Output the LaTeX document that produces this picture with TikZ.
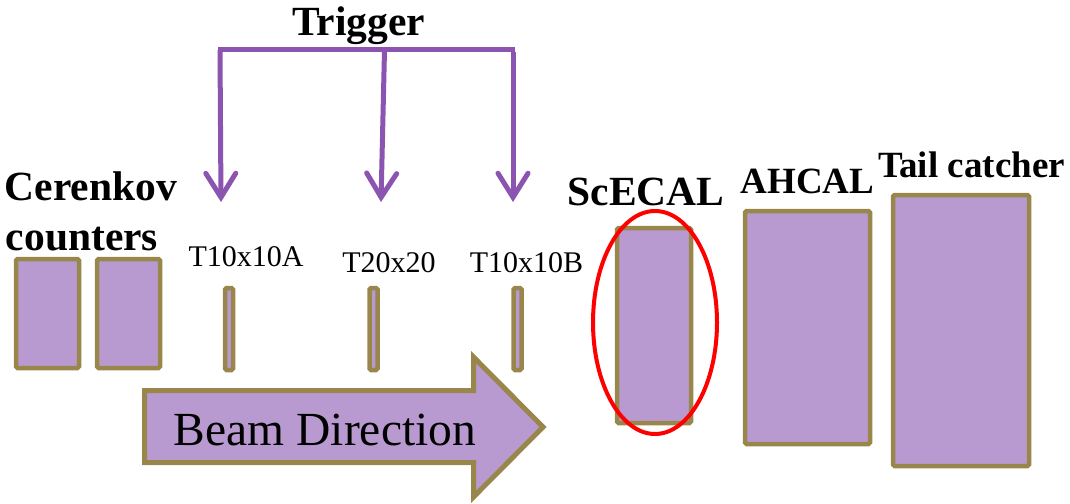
\documentclass[tikz,border=0pt]{standalone}
\usepackage{fontspec}
\setmainfont{Liberation Serif}
\usetikzlibrary{arrows.meta}
\definecolor{lav}{RGB}{184,153,208}
\definecolor{olivebd}{RGB}{153,134,74}
\definecolor{trig}{RGB}{139,84,176}
\definecolor{ellred}{RGB}{255,0,0}
\begin{document}
\begin{tikzpicture}[x=1pt,y=-1pt,
  box/.style={draw=olivebd, fill=lav, line width=4.5pt, rounded corners=1.5pt, inner sep=0pt, outer sep=0pt},
  trigline/.style={draw=trig, line width=5pt},
  trigarrow/.style={draw=trig, line width=5pt, -{Straight Barb[length=24pt,width=30pt,line cap=round]}},
  bigl/.style={font=\bfseries\fontsize{41.5}{46}\selectfont, inner sep=0pt, anchor=base},
  midl/.style={font=\bfseries\fontsize{37}{42}\selectfont, inner sep=0pt, anchor=base},
  tl/.style={font=\fontsize{30}{34}\selectfont, inner sep=0pt, anchor=base}]
\useasboundingbox (0,0) rectangle (1070,503);
% detector boxes
\node[box, minimum width=63pt, minimum height=109pt] (c1) at (47.5,313.5) {};
\node[box, minimum width=63pt, minimum height=109pt] (c2) at (128.5,313.5) {};
\node[box, minimum width=8pt, minimum height=82pt] (ta) at (229,329) {};
\node[box, minimum width=8pt, minimum height=82pt] (tb) at (373.5,329) {};
\node[box, minimum width=8pt, minimum height=82pt] (tc) at (517.5,329) {};
\node[box, minimum width=74pt, minimum height=195pt] (ecal) at (654,325.5) {};
\node[box, minimum width=125pt, minimum height=233pt] (hcal) at (807.5,327.5) {};
\node[box, minimum width=136pt, minimum height=271pt] (tcmt) at (961,330.5) {};
% ScECAL highlight
\draw[ellred, line width=4pt] (ecal.center) ++(1,-3) ellipse [x radius=62, y radius=111.5];
% beam arrow
\draw[draw=olivebd, fill=lav, line width=5pt, line join=miter]
  (144.5,390.5) -- (473.5,390.5) -- (473.5,357) -- (543,427) -- (473.5,497) -- (473.5,462.5) -- (144.5,462.5) -- cycle;
\node[font=\fontsize{47.5}{52}\selectfont, inner sep=0pt, anchor=base] (beam) at (325,445) {Beam Direction};
% trigger
\coordinate (bl) at (218,50);
\coordinate (br) at (515,50);
\coordinate (s1) at (220,50);
\coordinate (s2) at (384.5,50);
\coordinate (s3) at (513,52);
\coordinate (e1) at (221,202);
\coordinate (e2) at (381,202);
\coordinate (e3) at (513,202);
\draw[trigline] (bl) -- (br);
\draw[trigarrow] (s1) -- (e1);
\draw[trigarrow] (s2) -- (e2);
\draw[trigarrow] (s3) -- (e3);
% labels
\node[bigl] (trigger) at (358.5,36) {Trigger};
\node[bigl] (cer1) at (91,200) {Cerenkov};
\node[bigl] (cer2) at (82,250) {counters};
\node[tl] (la) at (246,266) {T10x10A};
\node[tl] (lb) at (389,272) {T20x20};
\node[tl] (lc) at (526.5,272) {T10x10B};
\node[bigl] (lecal) at (646,205) {ScECAL};
\node[midl] (lhcal) at (807.5,193) {AHCAL};
\node[midl] (ltc) at (971.5,177) {Tail catcher};
\end{tikzpicture}
\end{document}
